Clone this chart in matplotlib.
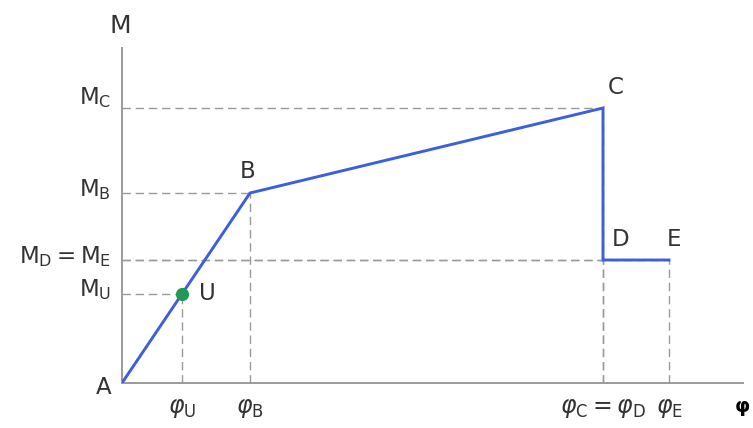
import matplotlib
matplotlib.use("Agg")
import matplotlib.pyplot as plt

# Schematic moment-curvature diagram (arbitrary units)
point_names = ["A", "U", "B", "C", "D", "E"]
phi_values = [0, 60, 128, 481, 481, 547]
moment_values = [0, 89, 190, 275, 123, 123]

curve_names = ["A", "B", "C", "D", "E"]
curve_phi = [0, 128, 481, 481, 547]
curve_m = [0, 190, 275, 123, 123]

y_tick_values = [275, 190, 123, 89]
y_tick_labels = [r"$\mathregular{M_C}$", r"$\mathregular{M_B}$",
                 r"$\mathregular{M_D{=}M_E}$", r"$\mathregular{M_U}$"]
x_tick_values = [60, 128, 481, 547]
x_tick_labels = [r"$\varphi_{\mathregular{U}}$", r"$\varphi_{\mathregular{B}}$",
                 r"$\varphi_{\mathregular{C}}{=}\varphi_{\mathregular{D}}$",
                 r"$\varphi_{\mathregular{E}}$"]

W, H = 753, 428
fig = plt.figure(figsize=(W / 100, H / 100), dpi=100)
ox, oy = 122, 383
x_max, y_max = 621, 335
ax = fig.add_axes([ox / W, (H - oy) / H, x_max / W, y_max / H])
ax.set_xlim(0, x_max)
ax.set_ylim(0, y_max)
for s in ["top", "right"]:
    ax.spines[s].set_visible(False)
for s in ["left", "bottom"]:
    ax.spines[s].set_color("#9a9a9a")
    ax.spines[s].set_linewidth(1.4)
ax.set_xticks([])
ax.set_yticks([])

text_color = "#333333"
dash_color = "#999999"

# Guide lines from the axes to each characteristic point
for name, px, py in zip(point_names, phi_values, moment_values):
    if name == "A":
        continue
    ax.plot([0, px], [py, py], ls=(0, (6, 3.5)), color=dash_color, lw=1.0, zorder=1)
    ax.plot([px, px], [0, py], ls=(0, (6, 3.5)), color=dash_color, lw=1.0, zorder=1)

# Curve A-B-C-D-E
ax.plot(curve_phi, curve_m, color="#3c5fdc", lw=2.1, zorder=3,
        solid_joinstyle="miter")
ui = point_names.index("U")
ax.plot(phi_values[ui], moment_values[ui], "o", color="#1e9a55", ms=8.5, zorder=4)

# Y-axis level labels
y_offsets = [10, 3, 3, 4]
for v, lab, off in zip(y_tick_values, y_tick_labels, y_offsets):
    ax.text(-11, v + off, lab, ha="right", va="center", fontsize=16.5,
            color=text_color, clip_on=False)

# X-axis curvature labels
for v, lab in zip(x_tick_values, x_tick_labels):
    ax.text(v, -25, lab, ha="center", va="center", fontsize=17,
            color=text_color, clip_on=False)

# Point labels
label_offsets = {"A": (-18, -4), "U": (25, 1), "B": (-2, 21),
                 "C": (13, 20), "D": (18, 21), "E": (5, 21)}
for name, px, py in zip(point_names, phi_values, moment_values):
    dx, dy = label_offsets[name]
    ax.text(px + dx, py + dy, name, ha="center", va="center", fontsize=16.5,
            color=text_color, clip_on=False)

# Axis names
ax.text(-2, y_max + 22, "M", ha="center", va="center", fontsize=18,
        color=text_color, clip_on=False)
ax.text(x_max + 7, -25, r"$\boldsymbol{\varphi}$", ha="right", va="center",
        fontsize=14, color="black", clip_on=False)

fig.savefig("out.png", dpi=100, facecolor="white")
